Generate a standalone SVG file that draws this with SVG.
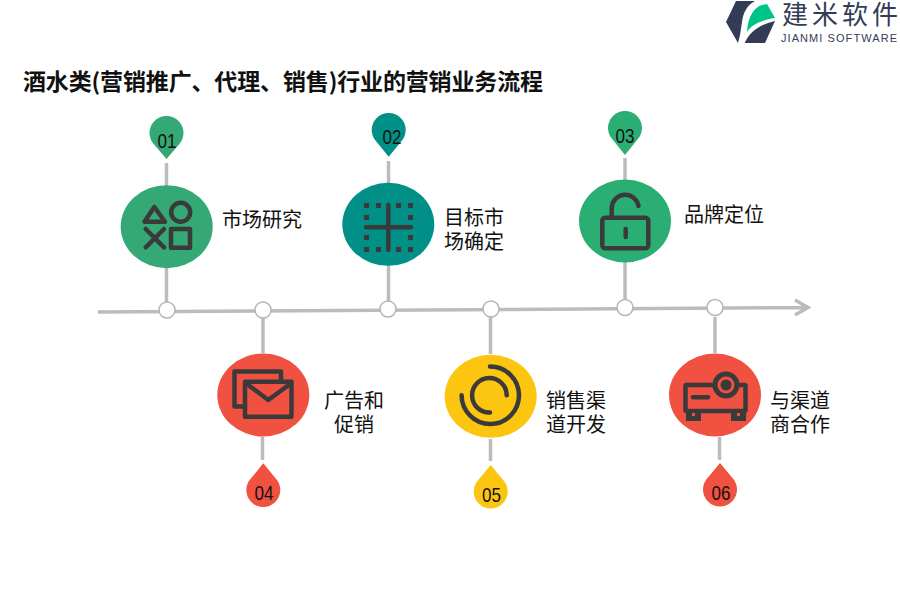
<svg xmlns="http://www.w3.org/2000/svg" width="900" height="600" viewBox="0 0 900 600">
<style>
.t{font-family:"Noto Sans CJK SC","Noto Sans",sans-serif;font-size:20px;fill:#111}
.title{font-family:"Noto Sans CJK SC","Noto Sans",sans-serif;font-size:23px;font-weight:700;fill:#111}
.n{font-family:"Liberation Sans",sans-serif;font-size:21px;fill:#111;text-anchor:middle}
.c{stroke:#bcbcbc;stroke-width:3.5;fill:none}
.d{fill:#fff;stroke:#b5b5b5;stroke-width:1.5}
.i{fill:none;stroke:#3a3a3a;stroke-width:4.5;stroke-linecap:round;stroke-linejoin:round}
.k{fill:#3a3a3a}
.a{text-anchor:middle}
</style>
<g id="logo">
<path d="M736 1H755C747 5 743 13 742 22L740 35L738 43L726 22Z" fill="#333c57"/>
<path d="M747 32C748 15 755 7 762 5L767 4L775 18C762 20 752 24 747 32Z" fill="#00c389"/>
<path d="M744.700 43C749 33 758 25 775 21L765 43Z" fill="#333c57"/>
<text x="782" y="23.500" font-family="Noto Sans CJK SC,sans-serif" font-size="26" letter-spacing="4" fill="#333c57">建米软件</text>
<text x="781" y="42" font-family="Liberation Sans,sans-serif" font-size="11" fill="#333c57" textLength="116">JIANMI SOFTWARE</text>
</g>
<text class="title" x="23" y="90" textLength="520">酒水类(营销推广、代理、销售)行业的营销业务流程</text>
<g id="connectors">
<path class="c" d="M98 312L808 307.5M795 300L808 307.5L795 315"/>
<path class="c" d="M166.500 163V305M388.500 161V302M625 158V300M263 317V353M262.500 437V460M490.500 317V354M490.500 439V461M715 317V353M719.500 437V460"/>
</g>
<g id="axis-dots">
<circle class="d" cx="167" cy="310" r="8"/><circle class="d" cx="263" cy="310" r="8"/><circle class="d" cx="388" cy="309" r="8"/><circle class="d" cx="491" cy="309" r="8"/><circle class="d" cx="625" cy="307.500" r="8"/><circle class="d" cx="715" cy="307.500" r="8"/>
</g>
<g id="node1">
<ellipse cx="166.700" cy="226.700" rx="46" ry="41.500" fill="#34a975"/>
<path d="M166.500 159L154.500 145A17 17 0 1 1 178.500 145Z" fill="#34a975"/>
<text class="n" x="167" y="148" textLength="19" lengthAdjust="spacingAndGlyphs">01</text>
<path class="i" d="M154.300 207L144.500 221.700H165ZM145.700 229L164 247.300M164 229L145.700 247.300"/>
<circle class="i" cx="180.700" cy="212.300" r="9.500"/><rect class="i" x="171" y="229" width="19" height="18.700"/>
<text class="t" x="222" y="227">市场研究</text>
</g>
<g id="node2">
<ellipse cx="388.300" cy="224.300" rx="46" ry="41.500" fill="#009088"/>
<path d="M388.700 156.700L376.700 142A17 17 0 1 1 400.700 142Z" fill="#009088"/>
<text class="n" x="392" y="143.500" textLength="19" lengthAdjust="spacingAndGlyphs">02</text>
<path class="k" d="M364 203h5v5h-5zM376 203h5v5h-5zM396 203h5v5h-5zM408 203h5v5h-5zM364 215h5v5h-5zM408 215h5v5h-5zM364 235h5v5h-5zM408 235h5v5h-5zM364 247h5v5h-5zM376 247h5v5h-5zM396 247h5v5h-5zM408 247h5v5h-5z"/>
<path class="i" d="M388.300 205V250M366 227.300H411"/>
<text class="t" x="444" y="225">目标市</text><text class="t" x="444" y="249">场确定</text>
</g>
<g id="node3">
<ellipse cx="625" cy="221" rx="46" ry="41.500" fill="#2bae74"/>
<path d="M625 155L613 140A17 17 0 1 1 637 140Z" fill="#2bae74"/>
<text class="n" x="625" y="143" textLength="19" lengthAdjust="spacingAndGlyphs">03</text>
<rect class="i" x="602.300" y="217.700" width="46" height="30.600" rx="3"/>
<path class="i" d="M611.700 218V208A13.500 13.500 0 0 1 638.500 206"/><path class="i" d="M625.700 229V237"/>
<text class="t" x="684" y="222">品牌定位</text>
</g>
<g id="node4">
<ellipse cx="263.300" cy="395" rx="46" ry="41.500" fill="#f15140"/>
<path d="M263.300 463.300L275.300 478A17 17 0 1 1 251.300 478Z" fill="#f15140"/>
<text class="n" x="264" y="500" textLength="19" lengthAdjust="spacingAndGlyphs">04</text>
<path class="i" d="M281 381V371.500H234.500V406.500H245"/><rect class="i" x="245" y="381.700" width="46.500" height="35"/><path class="i" d="M247 384L268.300 400L290 384"/>
<text class="t a" x="354" y="408">广告和</text><text class="t a" x="354" y="432">促销</text>
</g>
<g id="node5">
<ellipse cx="490.700" cy="396.300" rx="46" ry="41.500" fill="#fcc50f"/>
<path d="M490.700 465L502.700 479.500A17 17 0 1 1 478.700 479.500Z" fill="#fcc50f"/>
<text class="n" x="491.500" y="501.500" textLength="19" lengthAdjust="spacingAndGlyphs">05</text>
<path class="i" d="M490 366.600A28.700 28.700 0 1 1 461.600 395.300"/><path class="i" d="M506.700 395.300A17.300 17.300 0 1 0 490 412.600"/>
<text class="t" x="546" y="408">销售渠</text><text class="t" x="546" y="432">道开发</text>
</g>
<g id="node6">
<ellipse cx="715" cy="395" rx="46" ry="41.500" fill="#f15140"/>
<path d="M720 463L732 477.500A17 17 0 1 1 708 477.500Z" fill="#f15140"/>
<text class="n" x="721" y="500" textLength="19" lengthAdjust="spacingAndGlyphs">06</text>
<rect class="i" x="685.500" y="385" width="60" height="26" rx="1"/>
<path class="k" d="M686 411H701V421H686ZM731 411H746V421H731Z"/><path d="M692 413h3v3h-3zM737 413h3v3h-3z" fill="#f15140"/>
<circle cx="726" cy="385" r="11" fill="#f15140" stroke="#3a3a3a" stroke-width="5"/><circle class="k" cx="726" cy="385" r="5.500"/>
<path class="i" d="M693 397.300H708"/>
<text class="t" x="770" y="408">与渠道</text><text class="t" x="770" y="432">商合作</text>
</g>
</svg>
